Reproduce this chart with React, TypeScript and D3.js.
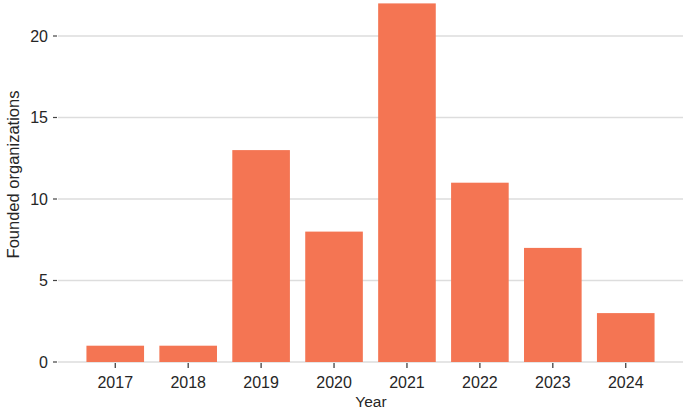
import React from "react";
import * as d3 from "d3";

const years = ["2017", "2018", "2019", "2020", "2021", "2022", "2023", "2024"];
const counts = [1, 1, 13, 8, 22, 11, 7, 3];
const yTicks = [0, 5, 10, 15, 20];

const W = 685;
const H = 411;
const left = 58;
const right = 683;
const bottom = 362;

export default function App() {
  const x = d3.scaleBand<string>().domain(years).range([left, right]).paddingInner(0.21).paddingOuter(0.39);
  const y = d3.scaleLinear().domain([0, 22]).range([bottom, bottom - 22 * 16.3]);
  const font = "'Liberation Sans', Arial, Helvetica, sans-serif";
  return (
    <svg width={W} height={H} style={{ position: "absolute", left: 0, top: 0 }} fontFamily={font}>
      <rect width={W} height={H} fill="#fff" />
      {yTicks.map((t) => (
        <g key={t}>
          <line x1={left} x2={right} y1={y(t)} y2={y(t)} stroke="#dddddd" strokeWidth={1.5} />
          <line x1={53} x2={57} y1={y(t)} y2={y(t)} stroke="#444" strokeWidth={1.2} />
          <text x={48} y={y(t)} dy="0.36em" textAnchor="end" fontSize={16} fill="#262626">{t}</text>
        </g>
      ))}
      {years.map((yr, i) => (
        <rect key={yr} x={x(yr)!} y={y(counts[i])} width={x.bandwidth()} height={bottom - y(counts[i])} fill="#F47553" />
      ))}
      {years.map((yr) => {
        const cx = x(yr)! + x.bandwidth() / 2;
        return (
          <g key={yr}>
            <line x1={cx} x2={cx} y1={363} y2={368} stroke="#333" strokeWidth={1.2} />
            <text x={cx} y={387.5} textAnchor="middle" fontSize={16} fill="#262626">{yr}</text>
          </g>
        );
      })}
      <text x={371} y={407} textAnchor="middle" fontSize={15.5} fill="#262626">Year</text>
      <text transform={`translate(19,${174.5}) rotate(-90)`} textAnchor="middle" fontSize={16.5} fill="#262626">Founded organizations</text>
    </svg>
  );
}
